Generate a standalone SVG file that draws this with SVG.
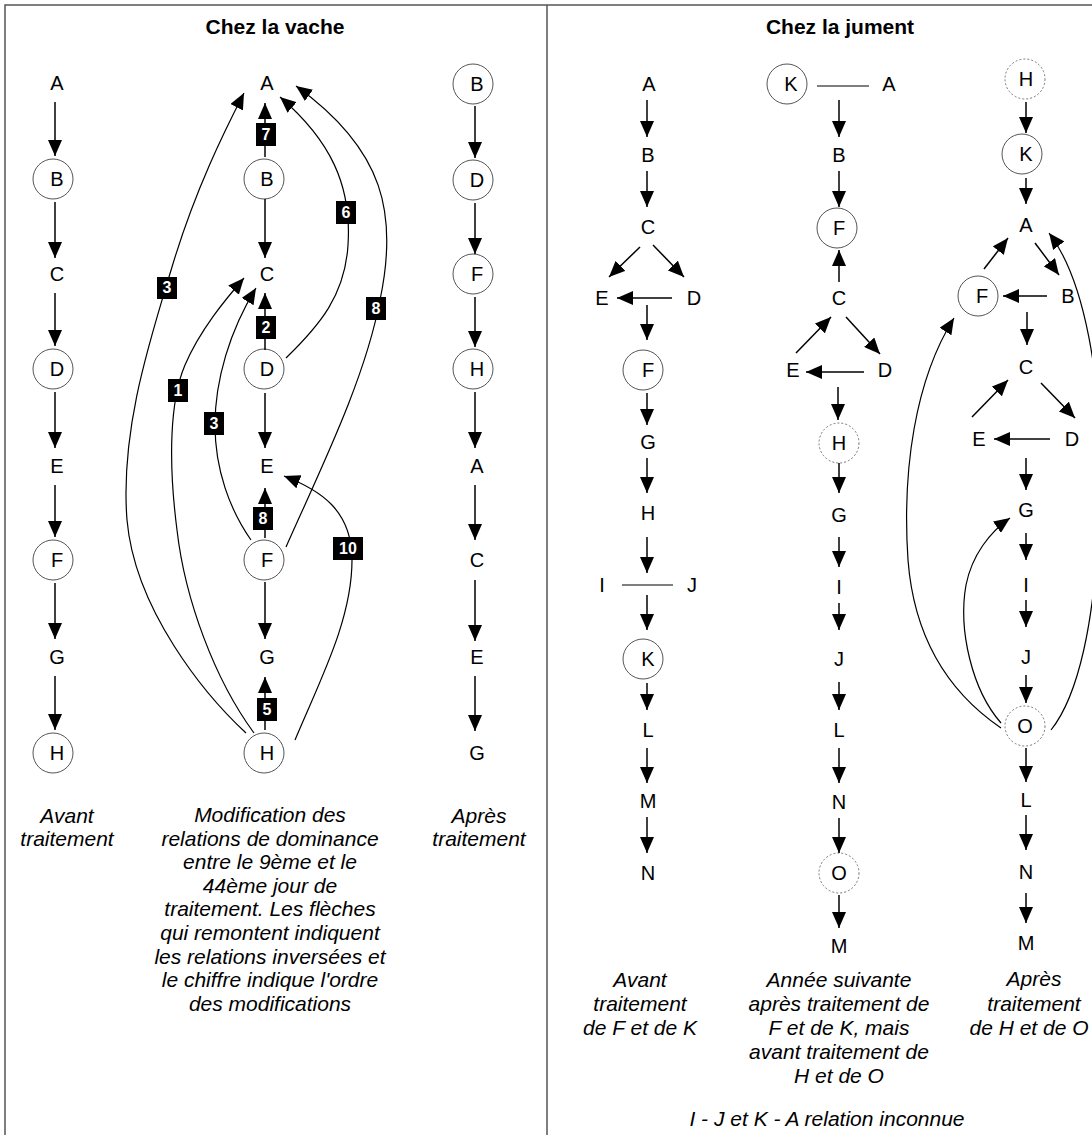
<svg xmlns="http://www.w3.org/2000/svg" width="1092" height="1135" viewBox="0 0 1092 1135">
<style>
.n{font-family:"Liberation Sans",Arial,sans-serif;font-size:20px;text-anchor:middle;fill:#000}
.c{fill:#fff;stroke:#555;stroke-width:1}
.d{fill:#fff;stroke:#777;stroke-width:1;stroke-dasharray:2 2}
.t{font-family:"Liberation Sans",Arial,sans-serif;font-size:21px;font-weight:bold;text-anchor:middle}
.cap{font-family:"Liberation Sans",Arial,sans-serif;font-size:21px;font-style:italic;text-anchor:middle}
.a{stroke:#000;stroke-width:1.5;fill:none;marker-end:url(#ah)}
.cv{stroke:#000;stroke-width:1.2;fill:none;marker-end:url(#ah)}
.l{stroke:#000;stroke-width:1.2;fill:none}
.bt{font-family:"Liberation Sans",Arial,sans-serif;font-size:16px;font-weight:bold;fill:#fff;text-anchor:middle}
.fr{stroke:#555;stroke-width:1.5;fill:none}
</style>
<defs>
<marker id="ah" markerUnits="userSpaceOnUse" markerWidth="16" markerHeight="14" refX="16" refY="7" orient="auto" viewBox="0 0 16 14"><path d="M0,0 L16,7 L0,14 z" fill="#000"/></marker>
</defs>
<rect width="1092" height="1135" fill="#fff"/>
<g id="frame">
<path class="fr" d="M5,1135 V5 H1092 M547,5 V1135"/>
</g>
<g id="titles">
<text class="t" x="275" y="34">Chez la vache</text>
<text class="t" x="840" y="34">Chez la jument</text>
</g>

<!-- Vache column 1 -->
<g id="v1-A"><text class="n" x="57" y="90">A</text></g>
<g id="v1-B"><circle class="c" cx="53" cy="179" r="20"/><text class="n" x="57" y="186">B</text></g>
<g id="v1-C"><text class="n" x="57" y="281">C</text></g>
<g id="v1-D"><circle class="c" cx="53" cy="369" r="20"/><text class="n" x="57" y="376">D</text></g>
<g id="v1-E"><text class="n" x="57" y="473">E</text></g>
<g id="v1-F"><circle class="c" cx="53" cy="560" r="20"/><text class="n" x="57" y="567">F</text></g>
<g id="v1-G"><text class="n" x="57" y="664">G</text></g>
<g id="v1-H"><circle class="c" cx="53" cy="753" r="20"/><text class="n" x="57" y="760">H</text></g>

<!-- Vache column 2 -->
<g id="v2-A"><text class="n" x="267" y="90">A</text></g>
<g id="v2-B"><circle class="c" cx="264" cy="179" r="20"/><text class="n" x="267" y="186">B</text></g>
<g id="v2-C"><text class="n" x="267" y="281">C</text></g>
<g id="v2-D"><circle class="c" cx="264" cy="369" r="20"/><text class="n" x="267" y="376">D</text></g>
<g id="v2-E"><text class="n" x="267" y="473">E</text></g>
<g id="v2-F"><circle class="c" cx="264" cy="560" r="20"/><text class="n" x="267" y="567">F</text></g>
<g id="v2-G"><text class="n" x="267" y="664">G</text></g>
<g id="v2-H"><circle class="c" cx="264" cy="753" r="20"/><text class="n" x="267" y="760">H</text></g>

<!-- Vache column 3 -->
<g id="v3-B"><circle class="c" cx="473" cy="84" r="20"/><text class="n" x="477" y="91">B</text></g>
<g id="v3-D"><circle class="c" cx="473" cy="180" r="20"/><text class="n" x="477" y="187">D</text></g>
<g id="v3-F"><circle class="c" cx="473" cy="274" r="20"/><text class="n" x="477" y="281">F</text></g>
<g id="v3-H"><circle class="c" cx="473" cy="369" r="20"/><text class="n" x="477" y="376">H</text></g>
<g id="v3-A"><text class="n" x="477" y="473">A</text></g>
<g id="v3-C"><text class="n" x="477" y="567">C</text></g>
<g id="v3-E"><text class="n" x="477" y="664">E</text></g>
<g id="v3-G"><text class="n" x="477" y="760">G</text></g>

<!-- Jument column 1 -->
<g id="j1-A"><text class="n" x="649" y="91">A</text></g>
<g id="j1-B"><text class="n" x="648" y="162">B</text></g>
<g id="j1-C"><text class="n" x="648" y="234">C</text></g>
<g id="j1-E"><text class="n" x="602" y="305">E</text></g>
<g id="j1-D"><text class="n" x="694" y="305">D</text></g>
<g id="j1-F"><circle class="c" cx="643" cy="370" r="20"/><text class="n" x="648" y="377">F</text></g>
<g id="j1-G"><text class="n" x="648" y="449">G</text></g>
<g id="j1-H"><text class="n" x="648" y="520">H</text></g>
<g id="j1-I"><text class="n" x="602" y="592">I</text></g>
<g id="j1-J"><text class="n" x="692" y="592">J</text></g>
<g id="j1-K"><circle class="c" cx="643" cy="659" r="20"/><text class="n" x="648" y="666">K</text></g>
<g id="j1-L"><text class="n" x="648" y="737">L</text></g>
<g id="j1-M"><text class="n" x="648" y="808">M</text></g>
<g id="j1-N"><text class="n" x="648" y="880">N</text></g>

<!-- Jument column 2 -->
<g id="j2-K"><circle class="c" cx="787" cy="84" r="20"/><text class="n" x="791" y="91">K</text></g>
<g id="j2-A"><text class="n" x="889" y="91">A</text></g>
<g id="j2-B"><text class="n" x="839" y="162">B</text></g>
<g id="j2-F"><circle class="c" cx="837" cy="228" r="20"/><text class="n" x="839" y="235">F</text></g>
<g id="j2-C"><text class="n" x="839" y="305">C</text></g>
<g id="j2-E"><text class="n" x="793" y="377">E</text></g>
<g id="j2-D"><text class="n" x="885" y="377">D</text></g>
<g id="j2-H"><circle class="d" cx="839" cy="443" r="20"/><text class="n" x="839" y="450">H</text></g>
<g id="j2-G"><text class="n" x="839" y="522">G</text></g>
<g id="j2-I"><text class="n" x="839" y="594">I</text></g>
<g id="j2-J"><text class="n" x="839" y="666">J</text></g>
<g id="j2-L"><text class="n" x="839" y="737">L</text></g>
<g id="j2-N"><text class="n" x="839" y="809">N</text></g>
<g id="j2-O"><circle class="d" cx="839" cy="873" r="20"/><text class="n" x="839" y="880">O</text></g>
<g id="j2-M"><text class="n" x="839" y="953">M</text></g>

<!-- Jument column 3 -->
<g id="j3-H"><circle class="d" cx="1025" cy="79" r="20"/><text class="n" x="1026" y="86">H</text></g>
<g id="j3-K"><circle class="c" cx="1022" cy="154" r="20"/><text class="n" x="1026" y="161">K</text></g>
<g id="j3-A"><text class="n" x="1026" y="232">A</text></g>
<g id="j3-F"><circle class="c" cx="978" cy="296" r="20"/><text class="n" x="982" y="303">F</text></g>
<g id="j3-B"><text class="n" x="1068" y="303">B</text></g>
<g id="j3-C"><text class="n" x="1026" y="374">C</text></g>
<g id="j3-E"><text class="n" x="979" y="446">E</text></g>
<g id="j3-D"><text class="n" x="1072" y="446">D</text></g>
<g id="j3-G"><text class="n" x="1026" y="517">G</text></g>
<g id="j3-I"><text class="n" x="1026" y="592">I</text></g>
<g id="j3-J"><text class="n" x="1026" y="664">J</text></g>
<g id="j3-O"><circle class="d" cx="1025" cy="726" r="20"/><text class="n" x="1025" y="733">O</text></g>
<g id="j3-L"><text class="n" x="1026" y="807">L</text></g>
<g id="j3-N"><text class="n" x="1026" y="879">N</text></g>
<g id="j3-M"><text class="n" x="1026" y="950">M</text></g>

<g id="connectors">
<!-- vache col 1 -->
<path class="a" d="M55,102 V156"/>
<path class="a" d="M55,202 V258"/>
<path class="a" d="M55,293 V346"/>
<path class="a" d="M55,392 V448"/>
<path class="a" d="M55,485 V537"/>
<path class="a" d="M55,583 V639"/>
<path class="a" d="M55,676 V730"/>
<!-- vache col 2 straight -->
<path class="a" d="M265,157 V103"/>
<path class="a" d="M265,199 V258"/>
<path class="a" d="M265,350 V293"/>
<path class="a" d="M265,393 V448"/>
<path class="a" d="M265,538 V488"/>
<path class="a" d="M265,582 V639"/>
<path class="a" d="M265,730 V677"/>
<!-- vache col 2 curves -->
<path class="cv" d="M246,733 C205,695 135,610 127,520 C120,430 150,340 172,267 C195,190 225,130 244,93"/>
<path class="cv" d="M254,733 C215,680 185,600 177,530 C168,460 170,400 185,365 C200,330 225,300 244,278"/>
<path class="cv" d="M251,540 C230,510 215,470 215,425 C215,380 230,330 256,288"/>
<path class="cv" d="M286,358 C320,325 345,295 348,245 C352,185 330,140 280,97"/>
<path class="cv" d="M286,547 C320,470 365,380 380,300 C398,215 385,150 296,86"/>
<path class="cv" d="M295,740 C320,680 352,620 352,560 C352,510 320,490 284,476"/>
<!-- vache col 3 -->
<path class="a" d="M475,106 V158"/>
<path class="a" d="M475,203 V254"/>
<path class="a" d="M475,297 V347"/>
<path class="a" d="M475,392 V448"/>
<path class="a" d="M475,485 V540"/>
<path class="a" d="M475,580 V641"/>
<path class="a" d="M475,676 V731"/>
<!-- labels -->
<g id="labels">
<rect x="256" y="123" width="20" height="23"/><text class="bt" x="266" y="140">7</text>
<rect x="256" y="316" width="20" height="23"/><text class="bt" x="266" y="333">2</text>
<rect x="253" y="507" width="20" height="23"/><text class="bt" x="263" y="524">8</text>
<rect x="257" y="698" width="20" height="23"/><text class="bt" x="267" y="715">5</text>
<rect x="157" y="277" width="20" height="22"/><text class="bt" x="167" y="293">3</text>
<rect x="168" y="379" width="20" height="23"/><text class="bt" x="178" y="396">1</text>
<rect x="204" y="412" width="20" height="23"/><text class="bt" x="214" y="429">3</text>
<rect x="336" y="201" width="20" height="23"/><text class="bt" x="346" y="218">6</text>
<rect x="366" y="297" width="20" height="23"/><text class="bt" x="376" y="314">8</text>
<rect x="333" y="537" width="30" height="23"/><text class="bt" x="348" y="554">10</text>
</g>
<!-- jument col 1 -->
<path class="a" d="M647,100 V137"/>
<path class="a" d="M647,171 V207"/>
<path class="a" d="M640,247 L609,277"/>
<path class="a" d="M653,245 L684,277"/>
<path class="a" d="M672,298 H617"/>
<path class="a" d="M647,305 V340"/>
<path class="a" d="M647,393 V425"/>
<path class="a" d="M647,458 V493"/>
<path class="a" d="M647,537 V573"/>
<path class="l" d="M622,585 H673"/>
<path class="a" d="M647,595 V630"/>
<path class="a" d="M647,683 V710"/>
<path class="a" d="M647,748 V783"/>
<path class="a" d="M647,817 V853"/>
<!-- jument col 2 -->
<path class="l" d="M817,86 H869"/>
<path class="a" d="M839,100 V137"/>
<path class="a" d="M839,171 V207"/>
<path class="a" d="M839,282 V250"/>
<path class="a" d="M846,317 L880,354"/>
<path class="a" d="M796,353 L831,317"/>
<path class="a" d="M864,372 H806"/>
<path class="a" d="M838,387 V420"/>
<path class="a" d="M839,463 V493"/>
<path class="a" d="M839,537 V567"/>
<path class="a" d="M839,603 V630"/>
<path class="a" d="M839,682 V710"/>
<path class="a" d="M839,748 V783"/>
<path class="a" d="M839,818 V853"/>
<path class="a" d="M839,895 V928"/>
<!-- jument col 3 -->
<path class="a" d="M1026,102 V133"/>
<path class="a" d="M1026,178 V204"/>
<path class="a" d="M984,269 L1008,238"/>
<path class="a" d="M1035,243 L1059,275"/>
<path class="a" d="M1047,296 H1003"/>
<path class="a" d="M1027,312 V345"/>
<path class="a" d="M972,417 L1008,380"/>
<path class="a" d="M1041,383 L1075,418"/>
<path class="a" d="M1050,439 H994"/>
<path class="a" d="M1026,458 V490"/>
<path class="a" d="M1026,533 V560"/>
<path class="a" d="M1026,600 V627"/>
<path class="a" d="M1026,675 V703"/>
<path class="a" d="M1026,748 V782"/>
<path class="a" d="M1026,815 V850"/>
<path class="a" d="M1026,893 V923"/>
<path class="cv" d="M1001,723 C972,690 958,630 966,585 C972,555 990,532 1010,518"/>
<path class="cv" d="M1001,728 C960,700 915,650 908,560 C902,470 915,380 954,318"/>
<path class="cv" d="M1051,730 C1075,700 1098,630 1100,480 C1102,380 1085,280 1049,233"/>
</g>

<g id="captions">
<text class="cap" x="67" y="823">Avant</text>
<text class="cap" x="67" y="846">traitement</text>
<text class="cap" x="270" y="822">Modification des</text>
<text class="cap" x="270" y="846">relations de dominance</text>
<text class="cap" x="270" y="869">entre le 9ème et le</text>
<text class="cap" x="270" y="893">44ème jour de</text>
<text class="cap" x="270" y="916">traitement. Les flèches</text>
<text class="cap" x="270" y="940">qui remontent indiquent</text>
<text class="cap" x="270" y="964">les relations inversées et</text>
<text class="cap" x="270" y="987">le chiffre indique l'ordre</text>
<text class="cap" x="270" y="1011">des modifications</text>
<text class="cap" x="479" y="823">Après</text>
<text class="cap" x="479" y="846">traitement</text>
<text class="cap" x="640" y="987">Avant</text>
<text class="cap" x="640" y="1011">traitement</text>
<text class="cap" x="640" y="1035">de F et de K</text>
<text class="cap" x="839" y="987">Année suivante</text>
<text class="cap" x="839" y="1011">après traitement de</text>
<text class="cap" x="839" y="1035">F et de K, mais</text>
<text class="cap" x="839" y="1059">avant traitement de</text>
<text class="cap" x="839" y="1083">H et de O</text>
<text class="cap" x="1034" y="986">Après</text>
<text class="cap" x="1034" y="1011">traitement</text>
<text class="cap" x="1029" y="1035">de H et de O</text>
<text class="cap" x="827" y="1126">I - J et K - A relation inconnue</text>
</g>
</svg>
